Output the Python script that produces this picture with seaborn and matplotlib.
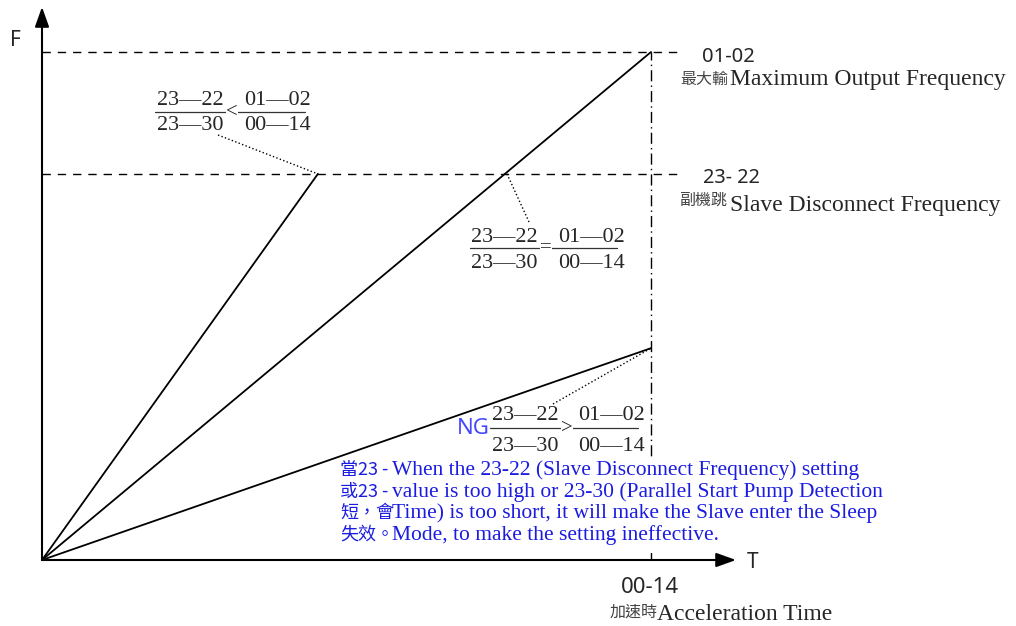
import matplotlib
matplotlib.use("Agg")
import matplotlib.pyplot as plt
from matplotlib.patches import Rectangle
import pandas as pd
import seaborn as sns

# ---------------- data (normalised units) ----------------
t_accel = 1.0            # 00-14 Acceleration Time
f_max = 1.0              # 01-02 Maximum Output Frequency
f_slave = 0.76           # 23-22 Slave Disconnect Frequency
ramp_names = ["fast", "equal", "slow"]
ramp_t_end = [0.453, 1.0, 1.0]
ramp_f_end = [0.76, 1.0, 0.417]
frac_num = ["23\u201422", "01\u201402"]
frac_den = ["23\u201430", "00\u201414"]
frac_rel = ["<", "=", ">"]
note_prefix = ["當23 -", "或23 -", "短，會", "失效。"]
note_lines = ["When the 23-22 (Slave Disconnect Frequency) setting",
              "value is too high or 23-30 (Parallel Start Pump Detection",
              "Time) is too short, it will make the Slave enter the Sleep",
              "Mode, to make the setting ineffective."]

sns.set_style("white")
plt.rcParams['font.family'] = ['Noto Sans', 'DejaVu Sans']

W, H = 1016, 626
fig = plt.figure(figsize=(W / 100, H / 100), dpi=100)
ax = fig.add_axes([0, 0, 1, 1])
X0, Y0, SX, SY = 42, 560, 609, 508
ax.set_xlim(-X0 / SX, (W - X0) / SX)
ax.set_ylim(-(H - Y0) / SY, Y0 / SY)
ax.axis('off')


def px(x):
    return (x - X0) / SX


def py(y):
    return (Y0 - y) / SY


# ramps
rows = []
for n, te, fe in zip(ramp_names, ramp_t_end, ramp_f_end):
    rows.append({"ramp": n, "T": 0.0, "F": 0.0})
    rows.append({"ramp": n, "T": te, "F": fe})
df = pd.DataFrame(rows)
sns.lineplot(data=df, x="T", y="F", units="ramp", estimator=None,
             color="black", lw=1.3, ax=ax, legend=False)

# reference lines
ax.plot([0, px(682)], [f_max, f_max], color="black", lw=1.0, ls=(0, (6, 5)))
ax.plot([0, px(682)], [f_slave, f_slave], color="black", lw=1.0, ls=(0, (6, 5)))
ax.plot([t_accel, t_accel], [0, f_max], color="black", lw=1.0, ls=(0, (8, 3, 1, 3)))

# axes arrows
ax.annotate("", xy=(px(736), 0), xytext=(0, 0),
            arrowprops=dict(arrowstyle="-|>,head_length=1.2,head_width=0.43",
                            mutation_scale=10, color="black", lw=1.5,
                            shrinkA=0, shrinkB=0), zorder=6)
ax.annotate("", xy=(0, py(7)), xytext=(0, 0),
            arrowprops=dict(arrowstyle="-|>,head_length=1.2,head_width=0.43",
                            mutation_scale=10, color="black", lw=1.5,
                            shrinkA=0, shrinkB=0), zorder=6)
ax.text(px(10), py(40), "F", fontsize=15, va="center", ha="left", zorder=6)
ax.text(px(747), py(563), "T", fontsize=15, va="center", ha="left", zorder=6)

# leader lines (dotted)
ax.plot([px(218), ramp_t_end[0]], [py(135), ramp_f_end[0]], color="black", lw=1.0, ls=":")
ax.plot([px(507), px(529)], [f_slave, py(222)], color="black", lw=1.0, ls=":")
ax.plot([px(553), t_accel], [py(404), ramp_f_end[2]], color="black", lw=1.0, ls=":")

serif = "Liberation Serif"
# fractions: (num x, num2 x, num baseline, line y, line x0, line x1, rel x, den baseline)
fracs = [(157, 244, 105, 112, 155, 305, 232, 130),
         (471, 558, 242, 248, 470, 617, 546, 268),
         (492, 578, 420, 428, 490, 638, 567, 451)]
for (nx, nx2, nb, ly, lx0, lx1, rx, db), rel in zip(fracs, frac_rel):
    ax.plot([px(lx0), px(lx1)], [py(ly), py(ly)], color="#333333", lw=0.9)
    ax.text(px(nx), py(nb), frac_num[0], family=serif, fontsize=16, va="baseline", ha="left")
    ax.text(px(nx2), py(nb), frac_num[1], family=serif, fontsize=16, va="baseline", ha="left")
    ax.text(px(nx), py(db), frac_den[0], family=serif, fontsize=16, va="baseline", ha="left")
    ax.text(px(nx2), py(db), frac_den[1], family=serif, fontsize=16, va="baseline", ha="left")
    ax.text(px(rx), py(ly), rel, family=serif, fontsize=15, va="center", ha="center",
            bbox=dict(facecolor="white", edgecolor="none", pad=0.3))
ax.text(px(457), py(428), "NG", fontsize=16, color="#4747ff", va="center", ha="left")

# right labels
cjk = ['Noto Sans CJK TC', 'DejaVu Sans']
ax.text(px(702), py(62), "01-02", fontsize=14.5, va="baseline", ha="left")
ax.text(px(680), py(84), "最大輸", family=cjk, fontsize=11.5, color="#444444", va="baseline", ha="left")
ax.text(px(730), py(85), "Maximum Output Frequency", family=serif, fontsize=17, va="baseline", ha="left")
ax.text(px(703), py(183), "23- 22", fontsize=14.3, va="baseline", ha="left")
ax.text(px(679), py(205), "副機跳", family=cjk, fontsize=11.5, color="#444444", va="baseline", ha="left")
ax.text(px(730), py(211), "Slave Disconnect Frequency", family=serif, fontsize=17, va="baseline", ha="left")
ax.text(px(621), py(593), "00-14", fontsize=16, va="baseline", ha="left")
ax.text(px(610), py(617), "加速時", family=cjk, fontsize=11.5, color="#444444", va="baseline", ha="left")
ax.text(px(657), py(620), "Acceleration Time", family=serif, fontsize=17, va="baseline", ha="left")

# note block (opaque box hides the lines behind it)
ax.add_patch(Rectangle((px(338), py(553)), px(890) - px(338), py(458) - py(553),
                       facecolor="white", edgecolor="none", zorder=3))
blue = "#1c1ce0"
for i, (pre, line) in enumerate(zip(note_prefix, note_lines)):
    yb = [475, 497, 518, 540][i]
    ax.text(px(340), py(yb), pre, family=cjk, fontsize=13, color=blue, va="baseline", ha="left", zorder=4)
    ax.text(px(392), py(yb), line, family=serif, fontsize=15.5, color=blue, va="baseline", ha="left", zorder=4)

fig.savefig("out.png", dpi=100)
